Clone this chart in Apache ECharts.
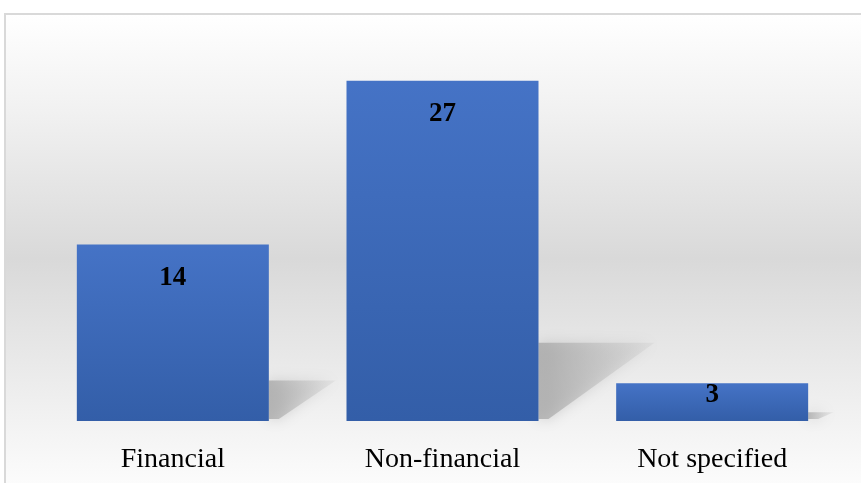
<!DOCTYPE html>
<html>
<head>
<meta charset="utf-8">
<script src="https://cdn.jsdelivr.net/npm/echarts@6/dist/echarts.min.js"></script>
<style>
  html, body {margin: 0; padding: 0; background: #fff;}
  #main {width: 861px; height: 483px;}
</style>
</head>
<body>
<div id="main"></div>
<script>
  // data
  const categories = ['Financial', 'Non-financial', 'Not specified'];
  const counts = [14, 27, 3];

  const chart = echarts.init(document.getElementById('main'));

  // soft perspective shadow behind each bar, sized from its value
  function renderShadow(params, api) {
    const idx = api.value(0);
    const val = api.value(1);
    const base = api.coord([idx, 0]);
    const top = api.coord([idx, val]);
    const h = base[1] - top[1];
    const x0 = base[0] + 96;
    const sh = h * 0.23;
    const sw = h * 0.3 + 14;
    return {
      type: 'polygon',
      shape: {points: [[x0, base[1] - sh], [x0 + sw, base[1] - sh], [x0 + 10, base[1] - 2], [x0, base[1] - 2]]},
      style: {
        fill: {
          type: 'linear', x: 0, y: 0, x2: 1, y2: 0,
          colorStops: [{offset: 0, color: 'rgba(165,165,165,0.75)'}, {offset: 1, color: 'rgba(190,190,190,0.2)'}]
        },
        shadowBlur: 14, shadowColor: 'rgba(170,170,170,0.7)'
      }
    };
  }

  const option = {
    animation: false,
    graphic: [{
      type: 'rect', z: -10, silent: true,
      shape: {x: 5, y: 14, width: 880, height: 490},
      style: {
        stroke: '#d9d9d9', lineWidth: 2,
        fill: {
          type: 'linear', x: 0, y: 0, x2: 0, y2: 1,
          colorStops: [
            {offset: 0, color: '#ffffff'},
            {offset: 0.2, color: '#f1f1f1'},
            {offset: 0.5, color: '#d9d9d9'},
            {offset: 0.8, color: '#f0f0f0'},
            {offset: 1, color: '#ffffff'}
          ]
        }
      }
    }],
    grid: {left: 38, right: 14, top: 43, bottom: 62},
    xAxis: {
      type: 'category',
      data: categories,
      axisLine: {show: false},
      axisTick: {show: false},
      axisLabel: {color: '#000', fontFamily: 'Liberation Serif', fontSize: 28, margin: 25}
    },
    yAxis: {
      type: 'value', min: 0, max: 30, show: false,
      splitLine: {show: false}
    },
    series: [{
      type: 'custom',
      z: 1,
      silent: true,
      renderItem: renderShadow,
      data: counts.map((v, i) => [i, v])
    }, {
      type: 'bar',
      z: 2,
      barWidth: 192,
      data: counts.map((v, i) => i === 2 ? {value: v, label: {distance: -2}} : v),
      itemStyle: {
        color: {
          type: 'linear', x: 0, y: 0, x2: 0, y2: 1,
          colorStops: [{offset: 0, color: '#4573c6'}, {offset: 1, color: '#335ea8'}]
        }
      },
      label: {
        show: true,
        position: 'insideTop',
        distance: 20,
        color: '#000',
        fontFamily: 'Liberation Serif',
        fontWeight: 'bold',
        fontSize: 27
      }
    }]
  };

  chart.setOption(option);
</script>
</body>
</html>
